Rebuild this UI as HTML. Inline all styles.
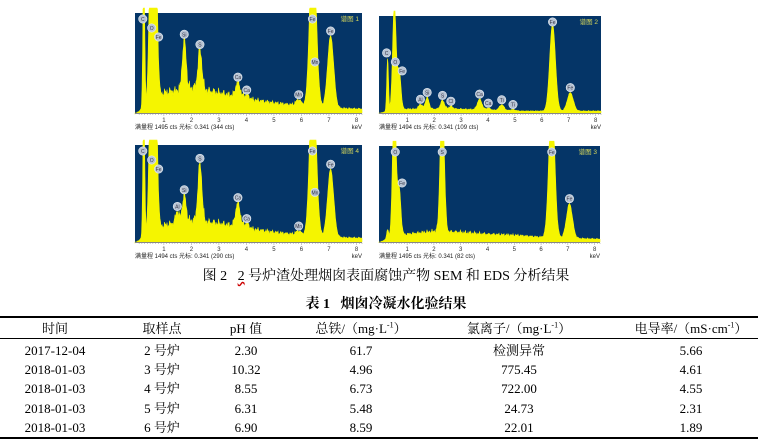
<!DOCTYPE html>
<html><head><meta charset="utf-8">
<style>
body{margin:0;width:758px;height:442px;background:#fff;overflow:hidden;position:relative;font-family:"Liberation Serif","Noto Serif CJK SC",serif;}
svg{position:absolute;left:0;top:0}
.t{position:absolute;font-size:13px;line-height:15px;height:15px;color:#000;white-space:nowrap;transform:translateX(-50%)}
.rule{position:absolute;left:0;width:758px;background:#000}
sup{line-height:0;font-size:8px}
</style></head><body>
<svg id="spec" width="758" height="442"></svg>

<div class="t" style="left:386px;top:269px;font-size:14px;line-height:16px">图 2 &nbsp; <span style="text-decoration:underline wavy #c00">2</span> 号炉渣处理烟囱表面腐蚀产物 SEM 和 EDS 分析结果</div>
<div class="t" style="left:386px;top:297px;font-size:14px;line-height:16px;font-weight:bold">表 1 &nbsp; 烟囱冷凝水化验结果</div>
<div class="rule" style="top:316px;height:1.5px"></div>
<div class="rule" style="top:338px;height:1px"></div>
<div class="rule" style="top:437px;height:1.5px"></div>
<div id="tbl"></div>

<script>
// ---- EDS spectra data ----
const panelNames=["谱图 1","谱图 2","谱图 4","谱图 3"];
const panelCounts=["满量程 1495 cts 光标: 0.341  (344 cts)","满量程 1494 cts 光标: 0.341  (109 cts)","满量程 1494 cts 光标: 0.341  (290 cts)","满量程 1495 cts 光标: 0.341  (82 cts)"];
const peakEnergy=[0.27,0.52,0.70,1.49,1.74,2.31,2.62,3.69,4.01,4.51,4.93,5.90,6.40,6.49,7.06];
const peakLabel=["C","O","Fe","Al","Si","S","Cl","Ca","Ca","Ti","Ti","Mn","Fe","Mn","Fe"];
const p1Heights=[1.5,1.5,1.5,0,0.5,0.4,0,0.15,0.04,0,0,0.06,1.5,0.4,0.72];
const p2Heights=[0.55,1.1,0.4,0.05,0.12,0.09,0.03,0.11,0.02,0.06,0.015,0,0.9,0,0.19];
const p3Heights=[1.5,1.5,1.5,0.12,0.28,0.6,0,0.25,0.05,0,0,0.04,1.5,0.4,0.7];
const p4Heights=[0.1,1.5,0.5,0,0,1.5,0,0,0,0,0,0,1.5,0,0.36];
const bgEnergy=[0.3,1,2,3,4,5,6,7,8.2];
const bg1=[0.06,0.2,0.25,0.2,0.14,0.1,0.07,0.05,0.04];
const bg2=[0.02,0.04,0.04,0.04,0.03,0.02,0.02,0.02,0.02];
const bg3=[0.06,0.17,0.22,0.19,0.14,0.1,0.07,0.05,0.04];
const bg4=[0.04,0.08,0.11,0.1,0.08,0.07,0.05,0.04,0.03];
const labelled=[[1,1,1,0,1,1,0,1,1,0,0,1,1,1,1],[1,1,1,1,1,1,1,1,1,1,1,0,1,0,1],[1,1,1,1,1,1,0,1,1,0,0,1,1,1,1],[0,1,1,0,0,1,0,0,0,0,0,0,1,0,1]];
const heights=[p1Heights,p2Heights,p3Heights,p4Heights];
const bgs=[bg1,bg2,bg3,bg4];
const boxes=[[135,13,227,100],[379,16,222,97],[135,145,227,97],[379,146,221,96]];
const ticks=[1,2,3,4,5,6,7,8];

const NS="http://www.w3.org/2000/svg";
const svg=document.getElementById('spec');
function mk(tag,attrs,parent){const e=document.createElementNS(NS,tag);for(const k in attrs)e.setAttribute(k,attrs[k]);(parent||svg).appendChild(e);return e;}
function bgAt(bg,E){if(E<=bgEnergy[0])return bg[0]*E/bgEnergy[0];for(let i=1;i<bgEnergy.length;i++){if(E<=bgEnergy[i]){const f=(E-bgEnergy[i-1])/(bgEnergy[i]-bgEnergy[i-1]);return bg[i-1]+f*(bg[i]-bg[i-1]);}}return bg[bg.length-1];}

boxes.forEach((b,pi)=>{
  const [x0,y0,w,h]=b;
  const eMin=-0.05,eMax=8.2;
  const xS=E=>x0+(E-eMin)/(eMax-eMin)*w;
  const yS=v=>y0+h-Math.min(v,1.05)*h;
  const g=mk('g',{});
  
  
  const bgR=mk('rect',{x:x0,y:y0,width:w,height:h,fill:'#053567'},g);
  
  
  let d='M'+x0+','+(y0+h);
  const hs=heights[pi];
  for(let px=0;px<=w;px+=0.5){
    const E=eMin+px/w*(eMax-eMin);
    const base=bgAt(bgs[pi],E);
    let v=base*(1+0.18*Math.sin(E*53)*Math.sin(E*17.3)+0.1*Math.sin(E*131));
    for(let k=0;k<peakEnergy.length;k++){if(!hs[k])continue;const s=(k==0?0.03:k<3?0.06:0.055)+0.008*peakEnergy[k];v+=hs[k]*Math.exp(-Math.pow(E-peakEnergy[k],2)/(2*s*s));}
    d+=' L'+(x0+px).toFixed(1)+','+yS(v).toFixed(1);
  }
  d+=' L'+(x0+w)+','+(y0+h)+' Z';
  const sp=mk('path',{d:d,fill:'#f5f500',stroke:'#f5f500','stroke-width':0.6},g);
  
  
  let prevTop=-99;
  for(let k=0;k<peakEnergy.length;k++){
    if(!hs[k]||!labelled[pi][k])continue;
    let v=hs[k]+bgAt(bgs[pi],peakEnergy[k]);
    let cy=Math.max(y0+6,yS(v)-5);
    const cx=xS(peakEnergy[k])+(k<3?(k-0.5)*2:0);
    if(k<3||k==13){cy=Math.max(cy,prevTop+9);}
    prevTop=cy;
    const c=mk('circle',{cx:cx,cy:cy,r:4.2,fill:'#b8c4d4',stroke:'#e6ecf2','stroke-width':0.6},g);
    
    
    const t=mk('text',{x:cx,y:cy+2,'font-size':5,'text-anchor':'middle',fill:'#334','font-family':'Liberation Sans, sans-serif'},g);
    t.textContent=peakLabel[k];
    
    
  }
  const nm=mk('text',{x:x0+w-3,y:y0+8,'font-size':6.5,'text-anchor':'end',fill:'#d8d85a','font-family':'Liberation Sans, Noto Sans CJK SC, sans-serif'},g);
  nm.textContent=panelNames[pi];
  
  
  const ax=mk('line',{x1:x0,y1:y0+h+0.5,x2:x0+w,y2:y0+h+0.5,stroke:'#888','stroke-width':1},g);
  
  
  for(let m=1;m<=82;m++){const E=m/10;const x=xS(E);mk('line',{x1:x,y1:y0+h+1,x2:x,y2:y0+h+(m%10==0?3:2),stroke:'#777','stroke-width':0.4},g);}
  ticks.forEach(E=>{const t=mk('text',{x:xS(E),y:y0+h+9,'font-size':6,'text-anchor':'middle',fill:'#333','font-family':'Liberation Sans, sans-serif'},g);t.textContent=E;});
  const st=mk('text',{x:x0,y:y0+h+16,'font-size':6,fill:'#222','font-family':'Liberation Sans, Noto Sans CJK SC, sans-serif'},g);
  st.textContent=panelCounts[pi];
  
  
  const ku=mk('text',{x:x0+w,y:y0+h+16,'font-size':6,'text-anchor':'end',fill:'#222','font-family':'Liberation Sans, sans-serif'},g);
  ku.textContent='keV';
  
  
});

// ---- table ----
const colX=[55,162,246,361,519,691];
const header=["时间","取样点","pH 值","总铁/（mg·L<sup>-1</sup>）","氯离子/（mg·L<sup>-1</sup>）","电导率/（mS·cm<sup>-1</sup>）"];
const rows=[
 ["2017-12-04","2 号炉","2.30","61.7","检测异常","5.66"],
 ["2018-01-03","3 号炉","10.32","4.96","775.45","4.61"],
 ["2018-01-03","4 号炉","8.55","6.73","722.00","4.55"],
 ["2018-01-03","5 号炉","6.31","5.48","24.73","2.31"],
 ["2018-01-03","6 号炉","6.90","8.59","22.01","1.89"]];
const rowY=[343,362,381,401,420];
const tbl=document.getElementById('tbl');
header.forEach((h,i)=>{const d=document.createElement('div');d.className='t';d.style.left=colX[i]+'px';d.style.top='321px';d.innerHTML=h;


tbl.appendChild(d);});
rows.forEach((r,ri)=>r.forEach((v,ci)=>{const d=document.createElement('div');d.className='t';d.style.left=colX[ci]+'px';d.style.top=rowY[ri]+'px';d.textContent=v;


tbl.appendChild(d);}));
</script>
</body></html>
